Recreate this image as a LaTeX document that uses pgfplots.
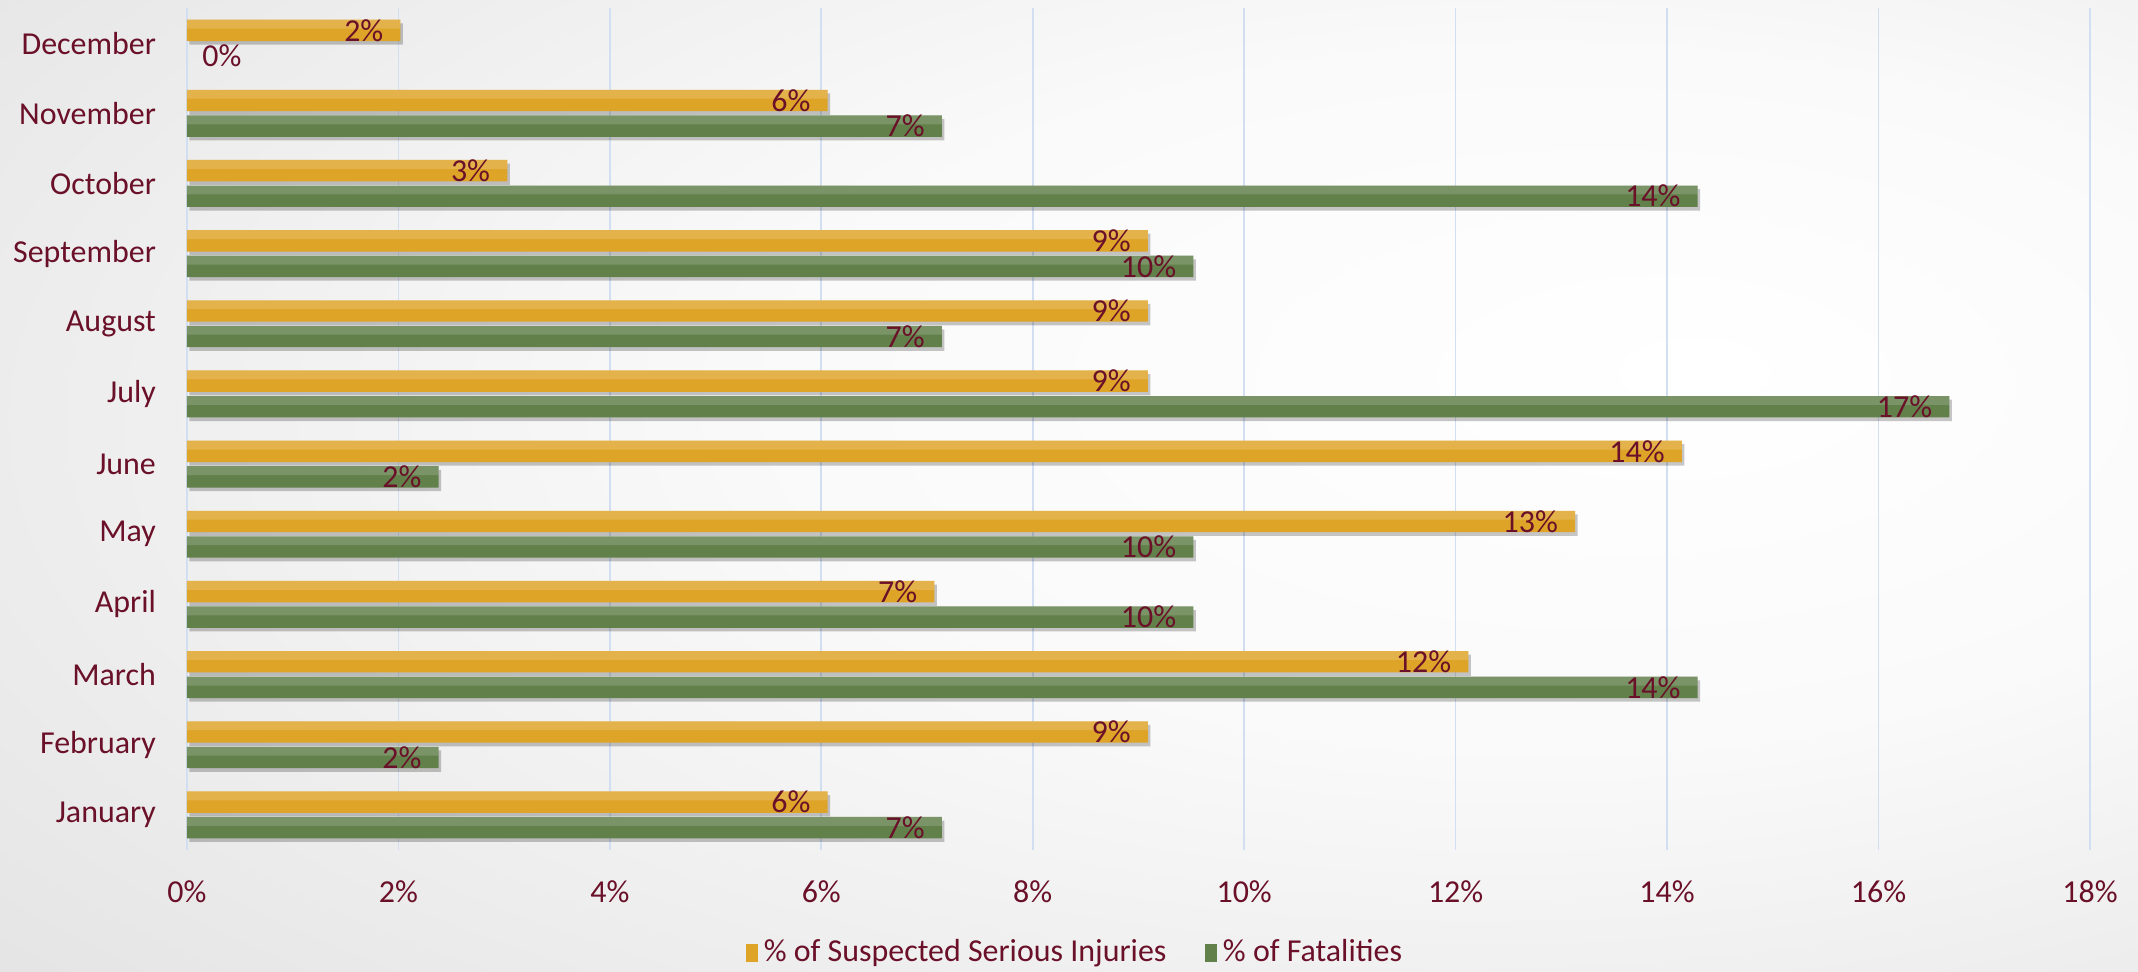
\documentclass[border=0pt]{standalone}
\usepackage{pgfplots}
\pgfplotsset{compat=1.18}
\usepackage{pgfplotstable}
\usepackage{fontspec}
\setmainfont{Carlito}
\usetikzlibrary{shadows}
\definecolor{txt}{HTML}{6A1028}
\definecolor{gridc}{HTML}{D2DEF2}
\definecolor{orM}{HTML}{DEA428}
\definecolor{grM}{HTML}{62804A}
\pgfdeclareradialshading{bg}{\pgfpoint{15bp}{6bp}}{color(0bp)=(white); color(18bp)=(white!98!black); color(72bp)=(black!21)}

\pgfplotstableread{
idx inj fat
0 6.06 7.14
1 9.09 2.38
2 12.12 14.29
3 7.07 9.52
4 13.13 9.52
5 14.14 2.38
6 9.09 16.67
7 9.09 7.14
8 9.09 9.52
9 3.03 14.29
10 6.06 7.14
11 2.02 0
}\data

\begin{document}
\begin{tikzpicture}
\shade[shading=bg, use as bounding box] (-67.3pt,-43.6pt) rectangle (702.4pt,306pt);
\begin{axis}[
  at={(0,0)}, anchor=south west, scale only axis,
  width=685.1pt, height=303.1pt,
  xbar, bar width=7.7pt,
  xmin=0, xmax=18, ymin=-0.5, ymax=11.5,
  xtick={0,2,...,18},
  xticklabels={0\%,2\%,4\%,6\%,8\%,10\%,12\%,14\%,16\%,18\%},
  ytick={0,...,11},
  yticklabels={January,February,March,April,May,June,July,August,September,October,November,December},
  xmajorgrids, major grid style={gridc, line width=0.6pt},
  axis line style={draw=none}, tick style={draw=none},
  ticklabel style={text=txt, font=\fontsize{11.5}{13}\selectfont},
  yticklabel style={inner sep=0pt, xshift=-6.7pt},
  xticklabel style={inner sep=0pt, yshift=-11pt},
  clip=false,
  legend style={at={(0.4677,-0.122)}, anchor=center, draw=none, fill=none,
    font=\fontsize{11.5}{13}\selectfont, text=txt, legend columns=2,
    /tikz/every even column/.append style={column sep=12pt}},
  point meta=x,
  nodes near coords={\pgfmathprintnumber[fixed,precision=0,assume math mode=true]{\pgfplotspointmeta}\%},
  every node near coord/.append style={anchor=east, inner sep=0pt, xshift=-6pt, text=txt, font=\fontsize{11.5}{13}\selectfont},
]
\addplot[draw=none, fill=orM, bar shift=4.6pt,
  drop shadow={shadow xshift=0.9pt, shadow yshift=-1.3pt, opacity=0.22, fill=black},
  legend image code/.code={\pgfsetfillcolor{orM}\pgfpathrectangle{\pgfpoint{0pt}{-3.3pt}}{\pgfpoint{4.3pt}{6.6pt}}\pgfusepath{fill}}]
  table[x=inj, y=idx] {\data};
\addlegendentry{\% of Suspected Serious Injuries}
\addplot[draw=none, fill=grM, bar shift=-4.6pt,
  skip coords between index={11}{12},
  drop shadow={shadow xshift=0.9pt, shadow yshift=-1.3pt, opacity=0.22, fill=black},
  legend image code/.code={\pgfsetfillcolor{grM}\pgfpathrectangle{\pgfpoint{0pt}{-3.3pt}}{\pgfpoint{4.3pt}{6.6pt}}\pgfusepath{fill}}]
  table[x=fat, y=idx] {\data};
\addlegendentry{\% of Fatalities}
\addplot[draw=none, fill=none, bar shift=-4.6pt, forget plot,
  every node near coord/.append style={anchor=west, xshift=11.4pt}]
  coordinates {(0,11)};
% top highlights of the bars
\addplot[draw=none, fill=white, fill opacity=0.16, bar width=3.2pt, bar shift=6.85pt, forget plot, nodes near coords={}]
  table[x=inj, y=idx] {\data};
\addplot[draw=none, fill=white, fill opacity=0.16, bar width=3.2pt, bar shift=-2.35pt, forget plot, nodes near coords={},
  skip coords between index={11}{12}]
  table[x=fat, y=idx] {\data};
\end{axis}
\end{tikzpicture}
\end{document}
